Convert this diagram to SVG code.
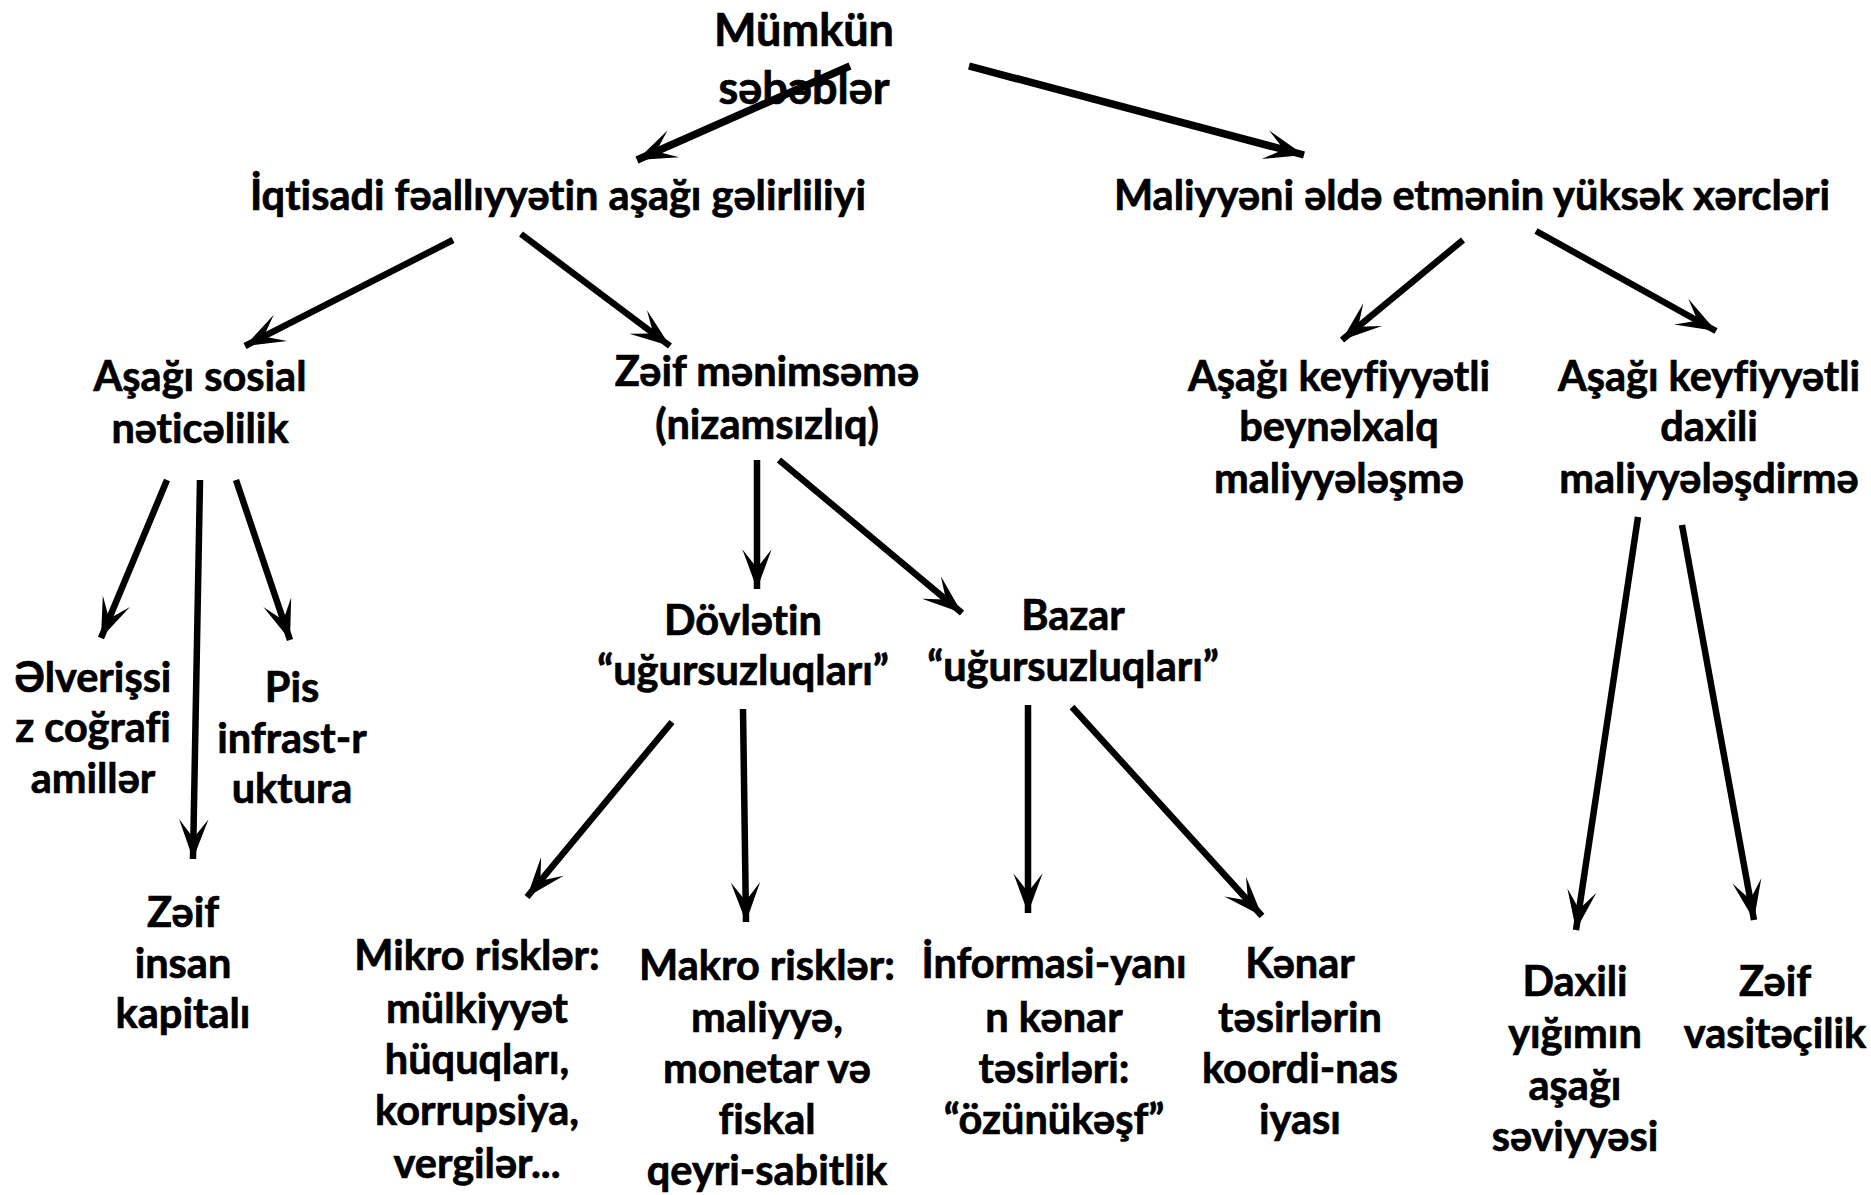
<svg xmlns="http://www.w3.org/2000/svg" width="1871" height="1195" viewBox="0 0 1871 1195">
<defs>
<marker id="ah" markerUnits="userSpaceOnUse" markerWidth="44" markerHeight="34" viewBox="-40 -16 42 32" refX="0" refY="0" orient="auto">
<path d="M0,0 L-38,-14 L-20,0 L-38,14 Z" fill="#000"/>
</marker>
</defs>
<style>
text{font-family:Lato,"Noto Sans",sans-serif;font-weight:bold;font-size:41.5px;fill:#000;stroke:#000;stroke-width:0.7;text-anchor:middle;font-variant-ligatures:none}
.t{font-size:45px}
.c line{stroke:#000;stroke-width:6.5;marker-end:url(#ah)}
.c line.k{stroke-width:7.5}
</style>
<rect width="1871" height="1195" fill="#fff"/>
<g id="n0"><text class="t" x="804" y="46">Mümkün</text><text class="t" x="804" y="104">səbəblər</text></g>
<g id="n1"><text x="558" y="210">İqtisadi fəallıyyətin aşağı gəlirliliyi</text></g>
<g id="n2"><text x="1472" y="210">Maliyyəni əldə etmənin yüksək xərcləri</text></g>
<g id="n3"><text x="200" y="391">Aşağı sosial</text><text x="200" y="443">nəticəlilik</text></g>
<g id="n4"><text x="767" y="386">Zəif mənimsəmə</text><text x="767" y="439">(nizamsızlıq)</text></g>
<g id="n5"><text x="1339" y="391">Aşağı keyfiyyətli</text><text x="1339" y="441">beynəlxalq</text><text x="1339" y="493">maliyyələşmə</text></g>
<g id="n6"><text x="1709" y="391">Aşağı keyfiyyətli</text><text x="1709" y="441">daxili</text><text x="1709" y="493">maliyyələşdirmə</text></g>
<g id="n7"><text x="93" y="692">Əlverişsi</text><text x="93" y="742">z coğrafi</text><text x="93" y="793">amillər</text></g>
<g id="n8"><text x="292" y="702">Pis</text><text x="292" y="753">infrast-r</text><text x="292" y="803">uktura</text></g>
<g id="n9"><text x="183" y="927">Zəif</text><text x="183" y="978">insan</text><text x="183" y="1028">kapitalı</text></g>
<g id="n10"><text x="743" y="635">Dövlətin</text><text x="743" y="685">“uğursuzluqları”</text></g>
<g id="n11"><text x="1073" y="630">Bazar</text><text x="1073" y="681">“uğursuzluqları”</text></g>
<g id="n12"><text x="477" y="970">Mikro risklər:</text><text x="477" y="1023">mülkiyyət</text><text x="477" y="1074">hüquqları,</text><text x="477" y="1125">korrupsiya,</text><text x="477" y="1178">vergilər...</text></g>
<g id="n13"><text x="767" y="980">Makro risklər:</text><text x="767" y="1032">maliyyə,</text><text x="767" y="1083">monetar və</text><text x="767" y="1134">fiskal</text><text x="767" y="1185">qeyri-sabitlik</text></g>
<g id="n14"><text x="1054" y="978">İnformasi-yanı</text><text x="1054" y="1032">n kənar</text><text x="1054" y="1083">təsirləri:</text><text x="1054" y="1134">“özünükəşf”</text></g>
<g id="n15"><text x="1300" y="978">Kənar</text><text x="1300" y="1032">təsirlərin</text><text x="1300" y="1083">koordi-nas</text><text x="1300" y="1134">iyası</text></g>
<g id="n16"><text x="1575" y="996">Daxili</text><text x="1575" y="1048">yığımın</text><text x="1575" y="1100">aşağı</text><text x="1575" y="1151">səviyyəsi</text></g>
<g id="n17"><text x="1775" y="996">Zəif</text><text x="1775" y="1048">vasitəçilik</text></g>
<g id="connectors" class="c">
<line class="k" x1="850" y1="66" x2="637" y2="160"/>
<line class="k" x1="969" y1="66" x2="1304" y2="155"/>
<line x1="453" y1="240" x2="245" y2="346"/>
<line x1="521" y1="234" x2="670" y2="346"/>
<line x1="1463" y1="240" x2="1342" y2="340"/>
<line x1="1536" y1="231" x2="1716" y2="331"/>
<line x1="167" y1="480" x2="101" y2="638"/>
<line x1="200" y1="480" x2="193" y2="859"/>
<line x1="236" y1="480" x2="290" y2="640"/>
<line x1="757" y1="460" x2="757" y2="589"/>
<line x1="779" y1="460" x2="962" y2="613"/>
<line x1="672" y1="722" x2="527" y2="897"/>
<line x1="743" y1="709" x2="746" y2="922"/>
<line x1="1028" y1="705" x2="1028" y2="913"/>
<line x1="1072" y1="707" x2="1262" y2="916"/>
<line x1="1638" y1="517" x2="1576" y2="930"/>
<line x1="1682" y1="525" x2="1754" y2="920"/>
</g>
</svg>
